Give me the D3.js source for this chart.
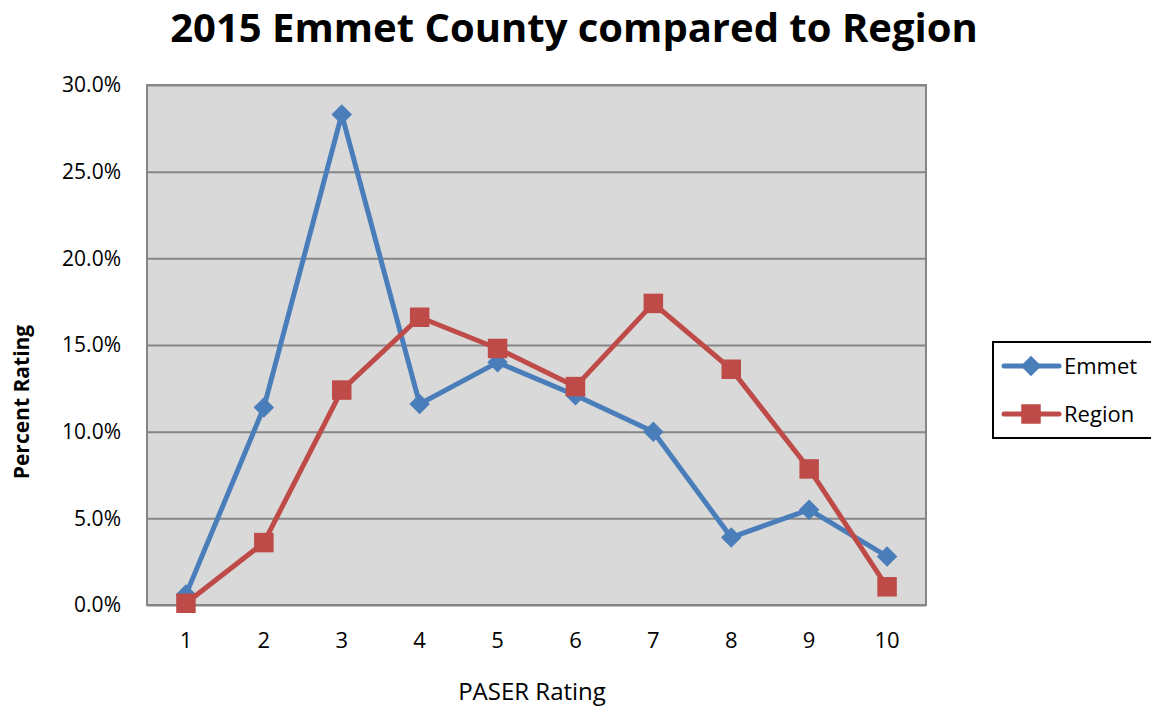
<!DOCTYPE html>
<html>
<head>
<meta charset="utf-8">
<script src="https://cdn.jsdelivr.net/npm/d3@7"></script>
<style>
	html, body { margin: 0; padding: 0; background: white; }
	#outer { width: 1151px; height: 711px; }
</style>
</head>
<body>
<div id="outer"></div>
<script>
	////////// Data //////////
	const categories = ['1', '2', '3', '4', '5', '6', '7', '8', '9', '10'];
	const emmetValues = [0.006, 0.114, 0.283, 0.116, 0.140, 0.121, 0.100, 0.039, 0.055, 0.028];
	const regionValues = [0.001, 0.036, 0.124, 0.166, 0.148, 0.126, 0.174, 0.136, 0.0785, 0.0105];
	const yTicks = [0, 0.05, 0.10, 0.15, 0.20, 0.25, 0.30];
	const seriesNames = ['Emmet', 'Region'];

	////////// Hard Coded Defs //////////
	const width = 1151;
	const height = 711;
	const plot = { left: 147, top: 85, right: 926, bottom: 605 };
	const font = '"Open Sans", "Liberation Sans", sans-serif';
	const emmetColor = '#4a7ebb';
	const regionColor = '#be4b48';
	const gridColor = '#868686';
	const plotFill = '#d9d9d9';
	const diamondSize = 210;
	const squareSize = 380;

	// square turned 45 degrees, like the Excel diamond marker
	const diamondSymbol = {
		draw(context, size) {
			const r = Math.sqrt(size / 2);
			context.moveTo(0, -r);
			context.lineTo(r, 0);
			context.lineTo(0, r);
			context.lineTo(-r, 0);
			context.closePath();
		}
	};

	////////////////////////////////////////////////////////////////
		// Render
	////////////////////////////////////////////////////////////////
	function render() {
		const svg = d3.select('#outer').append('svg')
			.attr('width', width)
			.attr('height', height)
			.style('font-family', font);

		const x = d3.scaleBand().domain(categories).range([plot.left, plot.right]);
		const y = d3.scaleLinear().domain([0, 0.30]).range([plot.bottom, plot.top]);
		const cx = c => x(c) + x.bandwidth() / 2;

		// plot area //
		svg.append('rect')
			.attr('x', plot.left).attr('y', plot.top)
			.attr('width', plot.right - plot.left).attr('height', plot.bottom - plot.top)
			.attr('fill', plotFill)
			.attr('stroke', gridColor).attr('stroke-width', 2);

		// y axis with gridlines //
		const yAxis = svg.append('g')
			.attr('transform', `translate(${plot.left},0)`)
			.call(d3.axisLeft(y).tickValues(yTicks).tickFormat(d3.format('.1%'))
				.tickSize(-(plot.right - plot.left)).tickPadding(26));
		yAxis.select('.domain').remove();
		yAxis.selectAll('line').attr('stroke', gridColor).attr('stroke-width', 2);
		yAxis.selectAll('text').attr('fill', '#000').style('font-size', '21px').style('font-family', font);

		// x axis //
		const xAxis = svg.append('g')
			.attr('transform', `translate(0,${plot.bottom})`)
			.call(d3.axisBottom(x).tickSize(0).tickPadding(27));
		xAxis.select('.domain').remove();
		xAxis.selectAll('text').attr('fill', '#000').style('font-size', '22px').style('font-family', font);

		// series //
		const line = d3.line().x((d, i) => cx(categories[i])).y(d => y(d));
		const drawSeries = (values, color, shape, size) => {
			svg.append('path')
				.datum(values)
				.attr('d', line)
				.attr('fill', 'none')
				.attr('stroke', color)
				.attr('stroke-width', 5)
				.attr('stroke-linejoin', 'round');
			svg.append('g').selectAll('path')
				.data(values)
				.join('path')
				.attr('transform', (d, i) => `translate(${cx(categories[i])},${y(d)})`)
				.attr('d', d3.symbol().type(shape).size(size))
				.attr('fill', color);
		};
		drawSeries(emmetValues, emmetColor, diamondSymbol, diamondSize);
		drawSeries(regionValues, regionColor, d3.symbolSquare, squareSize);

		// title //
		svg.append('text')
			.attr('x', 574).attr('y', 42)
			.attr('text-anchor', 'middle')
			.style('font-size', '40px').style('font-weight', 'bold')
			.text('2015 Emmet County compared to Region');

		// axis titles //
		svg.append('text')
			.attr('transform', 'translate(29,402) rotate(-90)')
			.attr('text-anchor', 'middle')
			.style('font-size', '21px').style('font-weight', 'bold')
			.text('Percent Rating');
		svg.append('text')
			.attr('x', 532).attr('y', 700)
			.attr('text-anchor', 'middle')
			.style('font-size', '24px')
			.text('PASER Rating');

		// legend //
		const legend = svg.append('g').attr('transform', 'translate(993,342)');
		legend.append('rect')
			.attr('width', 160).attr('height', 96)
			.attr('fill', 'white').attr('stroke', '#000').attr('stroke-width', 2);
		const legendRows = [
			{ name: seriesNames[0], color: emmetColor, shape: diamondSymbol, size: diamondSize, y: 24 },
			{ name: seriesNames[1], color: regionColor, shape: d3.symbolSquare, size: squareSize, y: 72 }
		];
		legendRows.forEach(r => {
			legend.append('line')
				.attr('x1', 11).attr('x2', 66).attr('y1', r.y).attr('y2', r.y)
				.attr('stroke', r.color).attr('stroke-width', 5).attr('stroke-linecap', 'round');
			legend.append('path')
				.attr('transform', `translate(38,${r.y})`)
				.attr('d', d3.symbol().type(r.shape).size(r.size))
				.attr('fill', r.color);
			legend.append('text')
				.attr('x', 71).attr('y', r.y + 8)
				.style('font-size', '22px')
				.text(r.name);
		});
	}

	render();
</script>
</body>
</html>
